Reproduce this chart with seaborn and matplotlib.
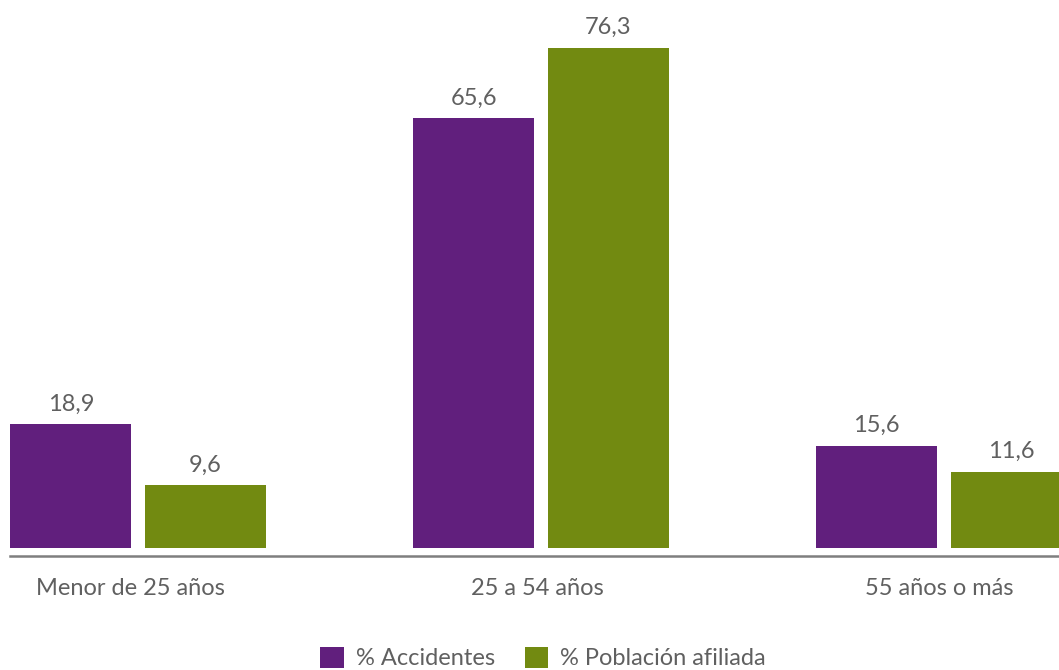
import matplotlib
matplotlib.use("Agg")
import matplotlib.pyplot as plt
import matplotlib.transforms as mtransforms
import seaborn as sns
import pandas as pd
from matplotlib.patches import Patch

categories = ["Menor de 25 años", "25 a 54 años", "55 años o más"]
series_names = ["% Accidentes", "% Población afiliada"]
accidentes = [18.9, 65.6, 15.6]
poblacion = [9.6, 76.3, 11.6]

colors = ["#611F7D", "#728A11"]
text_color = "#606060"

sns.set_theme(style="white")
plt.rcParams['font.family'] = ['Lato', 'DejaVu Sans']

df = pd.DataFrame({
    "cat": categories * 2,
    "serie": [series_names[0]] * 3 + [series_names[1]] * 3,
    "val": accidentes + poblacion,
})

fig = plt.figure(figsize=(10.59, 6.70), dpi=100)
ax = fig.add_axes([10 / 1059, (670 - 556) / 670, 1049 / 1059, 556 / 670])

sns.barplot(data=df, x="cat", y="val", hue="serie", hue_order=series_names,
            order=categories, palette=colors, width=0.667, gap=0.1,
            dodge=True, errorbar=None, saturation=1, ax=ax, legend=False,
            linewidth=0, edgecolor="none")

for cont in ax.containers:
    vals = [b.get_height() for b in cont]
    ax.bar_label(cont, labels=[f"{v:.1f}".replace(".", ",") for v in vals],
                 padding=7, fontsize=17, color=text_color)

ax.set_xlim((10 - 138) / 403, (1059 - 138) / 403)
ax.set_ylim(-8 / 6.553, 556 / 6.553 - 8 / 6.553)

for s in ["top", "right", "left"]:
    ax.spines[s].set_visible(False)
ax.spines["bottom"].set_color("#7F7F7F")
ax.spines["bottom"].set_linewidth(1.8)
ax.set_yticks([])
ax.set_xlabel("")
ax.set_ylabel("")
ax.tick_params(axis="x", length=0, pad=16, labelsize=17, labelcolor=text_color)
offsets = [-8, -4, -5]
for lbl, dx in zip(ax.get_xticklabels(), offsets):
    lbl.set_transform(lbl.get_transform() +
                      mtransforms.ScaledTranslation(dx / 100, 0, fig.dpi_scale_trans))

handles = [Patch(facecolor=c, edgecolor="none") for c in colors]
leg = fig.legend(handles, series_names, loc="center",
                 bbox_to_anchor=(543 / 1059, 1 - 658 / 670), ncol=2,
                 frameon=False, handlelength=1.0, handleheight=1.0,
                 handletextpad=0.5, columnspacing=1.25, fontsize=17)
for t in leg.get_texts():
    t.set_color(text_color)

fig.savefig("out.png", dpi=100)
